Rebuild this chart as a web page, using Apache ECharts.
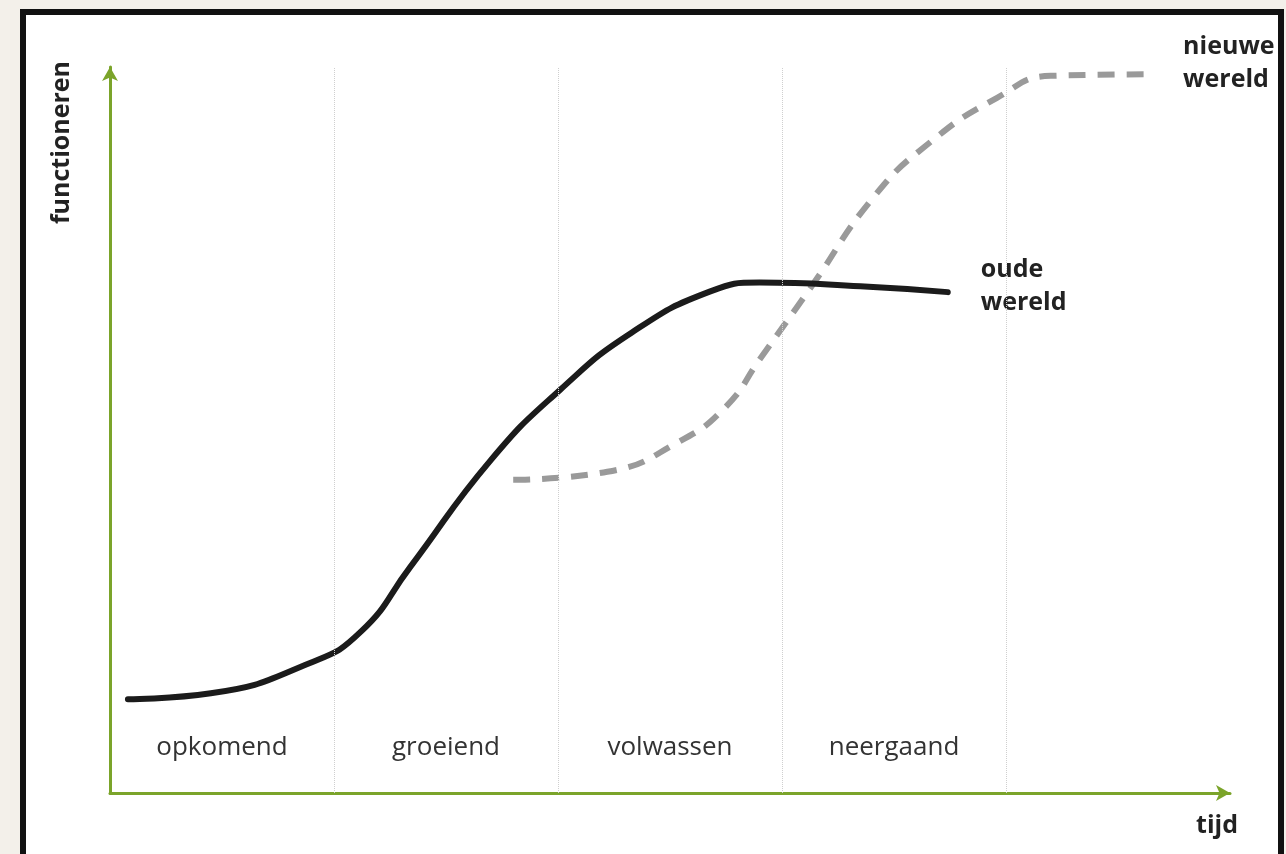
<!DOCTYPE html>
<html>
<head>
<meta charset="utf-8">
<title>oude en nieuwe wereld</title>
<script src="https://cdn.jsdelivr.net/npm/echarts@6/dist/echarts.min.js"></script>
<style>
  html, body { margin: 0; padding: 0; background: #f3f0ea; overflow: hidden; }
  .frame {
    position: absolute; left: 20px; top: 9px; width: 1264px; height: 900px;
    box-sizing: border-box; border: 6px solid #111; background: #fff;
  }
  #chart { position: absolute; left: 0; top: 0; width: 1286px; height: 854px; }
</style>
</head>
<body>
<div class="frame"></div>
<div id="chart"></div>
<script>
// fasen langs de tijdas (1 eenheid = 1 fase)
const phases = ['opkomend', 'groeiend', 'volwassen', 'neergaand'];
const phaseBounds = [1, 2, 3, 4];

// oude wereld: [tijd, functioneren]
const oldWorld = [
  [0.08, 12.8], [0.45, 13.6], [0.89, 17.7], [1.12, 22.0], [1.34, 30.8],
  [1.70, 45.4], [2.01, 55.0], [2.33, 62.8], [2.68, 68.4], [2.90, 69.6],
  [3.35, 69.1], [3.74, 68.3]
];

// nieuwe wereld
const newWorld = [
  [1.80, 42.7], [2.22, 43.8], [2.54, 47.9], [2.75, 52.7], [2.90, 59.1],
  [3.13, 69.0], [3.41, 81.3], [3.66, 88.7], [3.96, 94.8], [4.20, 97.8],
  [4.63, 98.0]
];

const green = '#7ba42a';
const font = '"Open Sans", "Noto Sans", sans-serif';

const chart = echarts.init(document.getElementById('chart'));

chart.setOption({
  animation: false,
  backgroundColor: 'transparent',
  grid: { left: 110, right: 56, top: 67, bottom: 61 },
  xAxis: {
    type: 'value',
    min: 0,
    max: 5,
    name: 'tijd',
    nameLocation: 'end',
    nameGap: 8,
    nameTextStyle: {
      fontFamily: font, fontWeight: 'bold', fontSize: 25, color: '#222',
      align: 'right', verticalAlign: 'top', padding: [20, 0, 0, 0]
    },
    axisLine: {
      show: true,
      lineStyle: { color: green, width: 3 },
      symbol: ['none', 'arrow'],
      symbolSize: [12, 14]
    },
    axisTick: { show: false },
    splitLine: { show: false },
    axisLabel: {
      inside: true,
      margin: 32,
      customValues: [0.5, 1.5, 2.5, 3.5],
      formatter: v => phases[Math.floor(v)],
      fontFamily: font,
      fontSize: 26,
      color: '#333'
    }
  },
  yAxis: {
    type: 'value',
    min: 0,
    max: 99,
    name: 'functioneren',
    nameLocation: 'end',
    nameRotate: 90,
    nameGap: 6,
    nameTextStyle: {
      fontFamily: font, fontWeight: 'bold', fontSize: 25, color: '#222',
      align: 'right', verticalAlign: 'bottom', padding: [0, 0, 36, 0]
    },
    axisLine: {
      show: true,
      lineStyle: { color: green, width: 3 },
      symbol: ['none', 'arrow'],
      symbolSize: [12, 14]
    },
    axisTick: { show: false },
    axisLabel: { show: false },
    splitLine: { show: false }
  },
  series: [
    {
      name: 'oude wereld',
      type: 'line',
      data: oldWorld,
      smooth: 0.5,
      showSymbol: false,
      lineStyle: { color: '#1b1b1b', width: 6, cap: 'round' },
      endLabel: {
        show: true,
        formatter: 'oude\nwereld',
        fontFamily: font, fontWeight: 'bold', fontSize: 25, color: '#222',
        lineHeight: 33, align: 'left', distance: 33, offset: [0, -6]
      },
      markLine: {
        silent: true,
        symbol: 'none',
        label: { show: false },
        lineStyle: { color: '#cfcfcf', width: 1, type: 'dotted' },
        data: phaseBounds.map(x => ({ xAxis: x }))
      },
      z: 3
    },
    {
      name: 'nieuwe wereld',
      type: 'line',
      data: newWorld,
      smooth: 0.5,
      showSymbol: false,
      lineStyle: { color: '#9a9a9a', width: 6, type: [17, 12], cap: 'butt' },
      endLabel: {
        show: true,
        formatter: 'nieuwe\nwereld',
        fontFamily: font, fontWeight: 'bold', fontSize: 25, color: '#222',
        lineHeight: 33, align: 'left', distance: 36, offset: [0, -11]
      },
      z: 2
    }
  ]
});

window.addEventListener('resize', () => chart.resize());
</script>
</body>
</html>
